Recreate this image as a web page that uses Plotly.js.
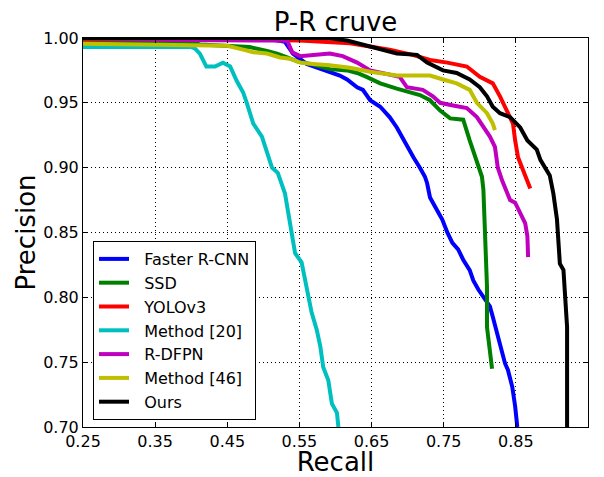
<!DOCTYPE html>
<html>
<head>
<meta charset="utf-8">
<script src="https://cdn.plot.ly/plotly-3.0.1.min.js"></script>
<style>html,body{margin:0;padding:0;background:#fff;}#chart{width:604px;height:477px;}</style>
</head>
<body>
<div id="chart"></div>
<script>
// Faster R-CNN
const fasterRecall = [0.25, 0.50, 0.53, 0.541, 0.56, 0.58, 0.592, 0.606, 0.616, 0.630, 0.638, 0.648, 0.662, 0.675, 0.685, 0.692, 0.699, 0.708, 0.717, 0.724, 0.727, 0.731, 0.741, 0.748, 0.755, 0.762, 0.770, 0.777, 0.786, 0.791, 0.798, 0.805, 0.814, 0.818, 0.824, 0.831, 0.835, 0.839, 0.845, 0.849, 0.852];
const fasterPrec = [1.0, 1.0, 0.997, 0.988, 0.980, 0.976, 0.974, 0.971, 0.968, 0.962, 0.960, 0.952, 0.947, 0.939, 0.931, 0.924, 0.916, 0.908, 0.900, 0.893, 0.888, 0.877, 0.867, 0.860, 0.850, 0.842, 0.837, 0.829, 0.821, 0.813, 0.806, 0.800, 0.793, 0.785, 0.772, 0.759, 0.749, 0.744, 0.731, 0.716, 0.700];
// SSD
const ssdRecall = [0.25, 0.40, 0.412, 0.468, 0.481, 0.505, 0.519, 0.533, 0.547, 0.565, 0.592, 0.616, 0.630, 0.643, 0.662, 0.685, 0.703, 0.717, 0.731, 0.745, 0.759, 0.777, 0.786, 0.796, 0.803, 0.805, 0.807, 0.810, 0.810, 0.814, 0.817];
const ssdPrec = [0.998, 0.997, 0.995, 0.994, 0.993, 0.990, 0.988, 0.985, 0.982, 0.980, 0.976, 0.975, 0.973, 0.970, 0.965, 0.961, 0.958, 0.956, 0.952, 0.944, 0.938, 0.937, 0.921, 0.904, 0.893, 0.883, 0.847, 0.808, 0.777, 0.759, 0.745];
// YOLOv3
const yoloRecall = [0.25, 0.45, 0.55, 0.592, 0.620, 0.652, 0.675, 0.707, 0.731, 0.755, 0.782, 0.800, 0.818, 0.828, 0.838, 0.846, 0.849, 0.853, 0.860, 0.866, 0.870];
const yoloPrec = [0.999, 0.999, 0.998, 0.997, 0.996, 0.993, 0.991, 0.987, 0.983, 0.981, 0.978, 0.970, 0.965, 0.955, 0.944, 0.934, 0.921, 0.908, 0.898, 0.890, 0.884];
// Method [20]
const m20Recall = [0.25, 0.40, 0.405, 0.412, 0.421, 0.433, 0.444, 0.454, 0.463, 0.472, 0.477, 0.486, 0.498, 0.505, 0.512, 0.520, 0.526, 0.530, 0.537, 0.544, 0.553, 0.558, 0.562, 0.567, 0.574, 0.579, 0.583, 0.590, 0.595, 0.602, 0.604];
const m20Prec = [0.993, 0.993, 0.992, 0.988, 0.978, 0.978, 0.981, 0.978, 0.967, 0.958, 0.950, 0.934, 0.924, 0.911, 0.900, 0.896, 0.885, 0.880, 0.857, 0.834, 0.827, 0.813, 0.800, 0.788, 0.775, 0.762, 0.746, 0.736, 0.718, 0.711, 0.700];
// R-DFPN
const rdfpnRecall = [0.25, 0.38, 0.533, 0.540, 0.551, 0.569, 0.592, 0.610, 0.630, 0.648, 0.666, 0.689, 0.699, 0.721, 0.735, 0.745, 0.763, 0.782, 0.796, 0.805, 0.814, 0.821, 0.825, 0.831, 0.842, 0.849, 0.856, 0.863, 0.866, 0.867];
const rdfpnPrec = [1.0, 0.9985, 0.998, 0.989, 0.986, 0.987, 0.988, 0.986, 0.981, 0.975, 0.973, 0.970, 0.962, 0.960, 0.955, 0.950, 0.948, 0.946, 0.939, 0.931, 0.924, 0.916, 0.900, 0.890, 0.875, 0.873, 0.865, 0.857, 0.847, 0.831];
// Method [46]
const m46Recall = [0.25, 0.45, 0.472, 0.486, 0.505, 0.523, 0.537, 0.551, 0.569, 0.592, 0.620, 0.648, 0.685, 0.731, 0.749, 0.768, 0.786, 0.796, 0.810, 0.818, 0.821];
const m46Prec = [0.9955, 0.994, 0.991, 0.989, 0.988, 0.985, 0.984, 0.981, 0.980, 0.979, 0.977, 0.974, 0.971, 0.971, 0.968, 0.965, 0.960, 0.950, 0.942, 0.934, 0.929];
// Ours
const oursRecall = [0.25, 0.59, 0.616, 0.638, 0.662, 0.685, 0.713, 0.727, 0.749, 0.768, 0.786, 0.800, 0.810, 0.818, 0.828, 0.842, 0.856, 0.866, 0.879, 0.884, 0.897, 0.902, 0.907, 0.911, 0.916, 0.918, 0.921, 0.921];
const oursPrec = [1.0, 1.0, 0.998, 0.995, 0.991, 0.988, 0.987, 0.981, 0.975, 0.973, 0.968, 0.962, 0.955, 0.947, 0.942, 0.939, 0.931, 0.921, 0.914, 0.906, 0.894, 0.880, 0.860, 0.826, 0.821, 0.800, 0.777, 0.700];

const names = ['Faster R-CNN', 'SSD', 'YOLOv3', 'Method [20]', 'R-DFPN', 'Method [46]', 'Ours'];
const colors = ['#0000ff', '#008000', '#ff0000', '#00bfbf', '#bf00bf', '#bfbf00', '#000000'];
const xTicks = [0.25, 0.35, 0.45, 0.55, 0.65, 0.75, 0.85, 0.95];
const yTicks = [0.70, 0.75, 0.80, 0.85, 0.90, 0.95, 1.00];

const xs = [fasterRecall, ssdRecall, yoloRecall, m20Recall, rdfpnRecall, m46Recall, oursRecall];
const ys = [fasterPrec, ssdPrec, yoloPrec, m20Prec, rdfpnPrec, m46Prec, oursPrec];

const pad = '\u00a0\u00a0';
const traces = names.map((n, i) => ({
  x: xs[i], y: ys[i], name: pad + n, type: 'scatter', mode: 'lines',
  line: {color: colors[i], width: 4, shape: 'linear'}
}));

const font = 'DejaVu Sans, Arial, sans-serif';
const axisCommon = {
  showline: true, linecolor: '#000', linewidth: 1, mirror: 'ticks',
  ticks: 'inside', ticklen: 5, tickcolor: '#000', tickwidth: 1,
  showgrid: true, gridcolor: '#000', griddash: '1px,3px', gridwidth: 1,
  zeroline: false, tickfont: {family: font, size: 16, color: '#000'},
  tickformat: '.2f', automargin: false
};

const layout = {
  width: 604, height: 477,
  margin: {l: 83, r: 16, t: 38, b: 50},
  paper_bgcolor: '#fff', plot_bgcolor: '#fff',
  font: {family: font, color: '#000'},
  title: {text: 'P-R cruve', font: {family: font, size: 26, color: '#000'},
          x: 0.5, xref: 'paper', y: 1 - 22/477, yref: 'container', yanchor: 'middle'},
  xaxis: Object.assign({}, axisCommon, {
    range: [0.25, 0.95], tickvals: xTicks,
    title: {text: 'Recall', font: {family: font, size: 26, color: '#000'}, standoff: 12}
  }),
  yaxis: Object.assign({}, axisCommon, {
    range: [0.70, 1.00], tickvals: yTicks,
    title: {text: 'Precision', font: {family: font, size: 26, color: '#000'}, standoff: 0}
  }),
  showlegend: true,
  legend: {
    x: 0.0198, y: 0.018, xanchor: 'left', yanchor: 'bottom',
    bordercolor: '#000', borderwidth: 1, bgcolor: '#fff',
    font: {family: font, size: 16, color: '#000'},
    traceorder: 'normal'
  }
};

Plotly.newPlot('chart', traces, layout, {displayModeBar: false, staticPlot: true});
</script>
</body>
</html>
